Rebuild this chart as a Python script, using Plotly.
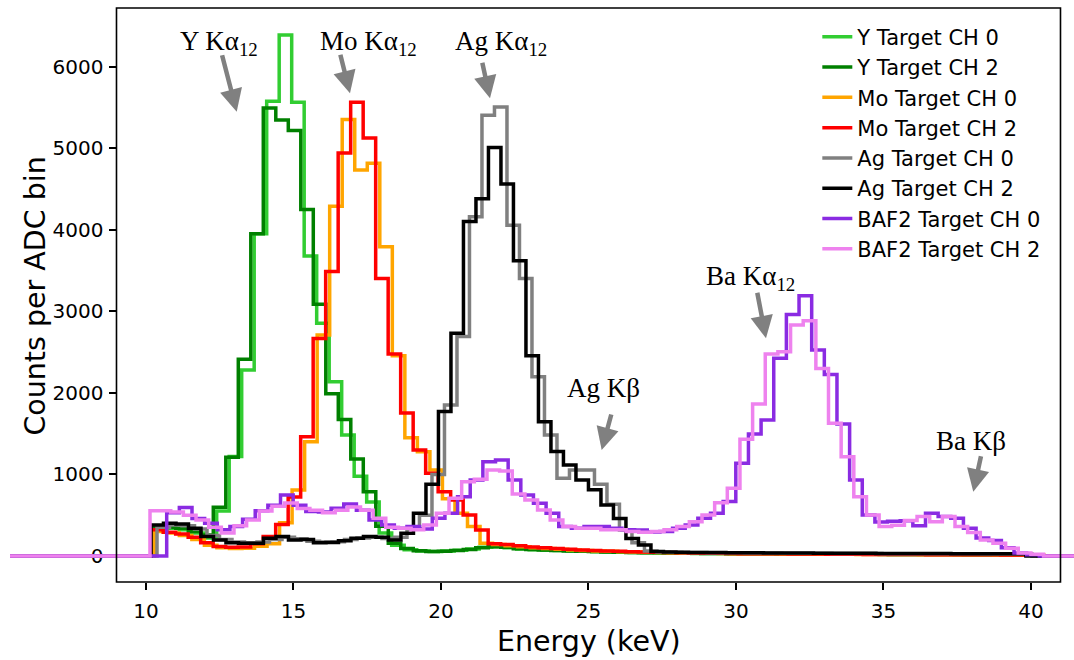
import numpy as np
import plotly.graph_objects as go

# ---------------- data ----------------
series_names = ["Y Target CH 0", "Y Target CH 2", "Mo Target CH 0", "Mo Target CH 2",
                "Ag Target CH 0", "Ag Target CH 2", "BAF2 Target CH 0", "BAF2 Target CH 2"]
series_colors = ["#32CD32", "#008000", "#FFA500", "#FF0000",
                 "#808080", "#000000", "#8A2BE2", "#EE82EE"]

# bin grid (keV) of each channel: first grid edge, discriminator threshold, bin width
grid_start_kev = [10.278, 10.163, 10.281, 10.159, 10.373, 10.169, 10.702, 9.981]
threshold_kev = [10.278, 10.163, 10.281, 10.159, 10.373, 10.169, 10.702, 10.136]
bin_width_kev = [0.4237, 0.4237, 0.4247, 0.4237, 0.4237, 0.4237, 0.4287, 0.4288]
spectrum_low_kev = 5.39
spectrum_high_kev = 41.6

y_ch0 = [330, 340, 320, 280, 220, 550, 1220, 2280, 3950, 5577, 6390, 5563, 3678, 2855, 2137, 1483, 977, 662, 282,
         130, 75, 60, 55, 60, 70, 85, 105, 112, 100, 85, 76,
         70, 65, 60, 56, 52, 48, 45, 42, 40, 37, 35, 33, 31, 30, 29, 28, 27, 26, 25, 24,
         23, 22, 22, 21, 20, 20, 19, 18, 18, 17, 17, 16, 16, 15, 15, 14, 14, 13, 13, 12]
y_ch2 = [360, 350, 340, 300, 257, 597, 1210, 2412, 3952, 5493, 5345, 5218, 4248, 3088, 1990, 1673, 1189, 787, 365,
         155, 90, 62, 55, 58, 66, 80, 100, 112, 105, 88, 78,
         72, 66, 61, 57, 53, 49, 46, 43, 40, 38, 36, 34, 32, 30, 29, 28, 27, 26, 25, 24,
         23, 23, 22, 21, 21, 20, 19, 19, 18, 18, 17, 17, 16, 16, 15, 15, 14, 14, 13, 13]
mo_ch0 = [300, 280, 250, 200, 130, 100, 90, 95, 120, 150, 408, 809, 1400, 2708, 4289, 5353, 4733, 4817, 3792,
          2455, 1450, 1278, 1054, 700, 523, 360, 155, 140, 125,
          112, 100, 90, 82, 74, 67, 61, 56, 51, 47, 44, 41, 38, 36, 34, 32, 30, 28, 27, 26,
          25, 24, 23, 22, 21, 20, 19, 18, 18, 17, 16, 16, 15, 15, 14, 14, 13, 13, 12, 12, 11, 11]
mo_ch2 = [320, 290, 270, 230, 160, 115, 105, 110, 150, 239, 386, 724, 1462, 2665, 3488, 4943, 5563, 5125, 3403,
          2475, 1752, 1299, 1013, 788, 686, 502, 318, 150, 140, 125, 110,
          100, 90, 82, 74, 67, 61, 56, 51, 47, 44, 41, 38, 36, 34, 32, 30, 28, 27, 26, 25,
          24, 23, 22, 21, 20, 19, 18, 18, 17, 16, 16, 15, 15, 14, 14, 13, 13, 12, 12, 11]
ag_ch0 = [350, 380, 370, 330, 250, 200, 170, 160, 170, 200, 230, 210, 180, 170, 175, 200, 220, 230, 215, 230,
          330, 500, 1000, 1850, 2690, 4160, 5404, 5507, 4056, 3403, 2197, 1483, 952, 1054, 1054, 880, 635, 318,
          160, 60,
          48, 45, 43, 41, 40, 39, 38, 37, 36, 35, 34, 33, 32, 32, 31, 30, 30, 29, 28, 28,
          27, 27, 26, 26, 25, 25, 24, 24, 23, 23]
ag_ch2 = [380, 400, 390, 340, 237, 196, 160, 155, 155, 217, 237, 196, 200, 160, 165, 185, 217, 237, 230, 196,
          278, 523, 880, 1770, 2730, 4100, 4380, 5010, 4560, 3620, 2455, 1645, 1280, 1115, 930, 810, 625, 460,
          215, 135, 55,
          48, 45, 43, 42, 41, 40, 39, 38, 37, 36, 35, 35, 34, 33, 33, 32, 32, 31, 31, 30,
          30, 29, 29, 28, 28, 27, 27, 26, 26]
baf2_ch0 = [530, 595, 460, 400, 320, 360, 450, 555, 620, 748,
            620, 545, 540, 585, 637, 560, 441, 380, 340, 360,
            330, 462, 523, 727, 931, 1156, 1176, 931, 748, 645,
            523, 360, 340, 360, 360, 340, 320, 318, 292, 300,
            340, 380, 462, 523, 666, 1136, 1495, 1667, 2423, 2962,
            3190, 2525, 2226, 1618, 931, 502, 415, 425, 430, 370,
            523, 482, 462, 339, 220, 190, 100, 37, 15]
baf2_ch2 = [555,
            555, 540, 500, 440, 350, 280, 370, 440, 550, 610,
            650, 580, 560, 530, 560, 600, 560, 462, 350, 340,
            320, 380, 523, 707, 911, 940, 1054, 1040, 760, 686,
            564, 441, 360, 340, 340, 320, 320, 300, 290, 300,
            320, 360, 420, 502, 653, 830, 1430, 1863, 2475, 2504,
            2831, 2884, 2300, 1626, 1217, 727, 502, 360, 375, 433,
            482, 420, 482, 360, 286, 196, 155, 94, 37, 20]
series_counts = [y_ch0, y_ch2, mo_ch0, mo_ch2, ag_ch0, ag_ch2, baf2_ch0, baf2_ch2]

x_ticks = [10, 15, 20, 25, 30, 35, 40]
y_ticks = [0, 1000, 2000, 3000, 4000, 5000, 6000]

# peak labels: (text, label x keV, label y counts, arrow tip keV, arrow tip counts, tail dx px, tail dy px)
peak_labels = [
    ("Y Kα<sub>12</sub>", 12.475, 6291, 13.075, 5448, -15, -58),
    ("Mo Kα<sub>12</sub>", 17.559, 6291, 16.915, 5674, -10, -40),
    ("Ag Kα<sub>12</sub>", 22.034, 6291, 21.661, 5612, -8, -37),
    ("Ag Kβ", 25.492, 2059, 25.447, 1299, 10, -37),
    ("Ba Kα<sub>12</sub>", 30.508, 3409, 31.017, 2669, -9, -47),
    ("Ba Kβ", 37.983, 1409, 38.044, 788, 8, -37),
]

# ---------------- figure ----------------
fig = go.Figure()
for name, color, g0, thr, w, counts in zip(series_names, series_colors, grid_start_kev,
                                            threshold_kev, bin_width_kev, series_counts):
    n = len(counts)
    edges = g0 + w * np.arange(n + 1)
    edges[0] = thr
    xs = np.concatenate([[spectrum_low_kev], edges, [spectrum_high_kev]])
    ys = np.concatenate([[0], counts, [0, 0]])
    fig.add_trace(go.Scatter(x=xs, y=ys, mode="lines", name=name,
                             line=dict(color=color, width=3.5, shape="hv")))

tick_font = dict(family="DejaVu Sans", size=20, color="black")
fig.update_layout(
    width=1074, height=660,
    margin=dict(l=0, r=0, t=8, b=78, autoexpand=False),
    paper_bgcolor="white", plot_bgcolor="white",
    showlegend=True,
    legend=dict(x=0.761, y=0.985, xanchor="left", yanchor="top",
                bgcolor="rgba(0,0,0,0)", font=dict(family="DejaVu Sans", size=21, color="black"),
                tracegroupgap=0),
    xaxis=dict(range=[5.051, 41.458], tickvals=x_ticks, ticks="outside", ticklen=7, tickwidth=1.6,
               tickcolor="black", showgrid=False, zeroline=False, showline=False,
               ticklabelstandoff=4, tickfont=tick_font),
    yaxis=dict(range=[-320, 6720], tickvals=y_ticks, ticks="outside", ticklen=7, tickwidth=1.6,
               tickcolor="black", showgrid=False, zeroline=False, showline=False,
               anchor="free", position=0.10847, layer="below traces",
               ticklabelstandoff=2, tickfont=tick_font),
)

# axes frame
fig.add_shape(type="rect", xref="x", yref="paper", x0=9, x1=41, y0=0, y1=1,
              line=dict(color="black", width=1.6), layer="above")

annotations = []
for text, lx, ly, tx, ty, dx, dy in peak_labels:
    annotations.append(dict(x=tx, y=ty, xref="x", yref="y", text="", showarrow=True,
                            ax=dx, ay=dy, arrowhead=2, arrowsize=1.0, arrowwidth=4.5,
                            arrowcolor="#808080"))
    annotations.append(dict(x=lx, y=ly, xref="x", yref="y", text=text, showarrow=False,
                            xanchor="center", yanchor="middle",
                            font=dict(family="Liberation Serif", size=27, color="black")))
annotations.append(dict(x=0.548, y=-0.104, xref="paper", yref="paper", text="Energy (keV)",
                        showarrow=False, xanchor="center", yanchor="middle",
                        font=dict(family="DejaVu Sans", size=28.5, color="black")))
annotations.append(dict(x=0.033, y=0.498, xref="paper", yref="paper", text="Counts per ADC bin",
                        showarrow=False, xanchor="center", yanchor="middle", textangle=-90,
                        font=dict(family="DejaVu Sans", size=28.5, color="black")))
fig.update_layout(annotations=annotations)

fig.write_html("out.html", config={"displayModeBar": False},
               post_script="document.body.style.margin='0';document.body.style.overflow='hidden';")
